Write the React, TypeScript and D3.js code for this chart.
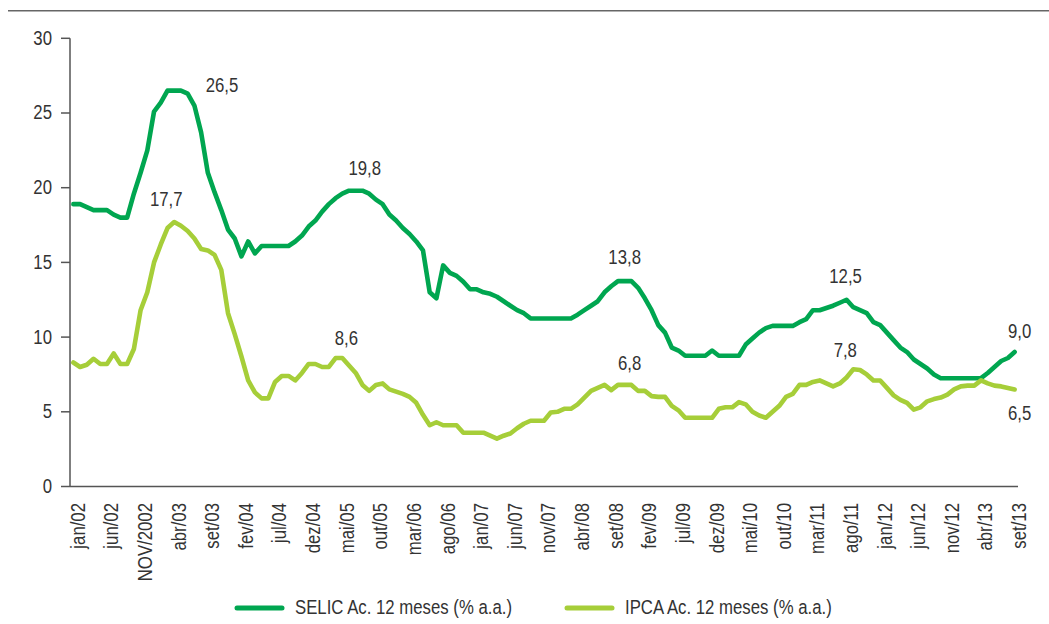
import React from 'react';
import * as d3 from 'd3';

// monthly values jan/02 .. set/13 (141 months)
const selic = [
  18.9, 18.9, 18.7, 18.5, 18.5, 18.5, 18.2, 18.0, 18.0, 19.6, 21.0, 22.5,
  25.1, 25.7, 26.5, 26.5, 26.5, 26.3, 25.5, 23.7, 21.0, 19.7, 18.5, 17.2,
  16.6, 15.4, 16.4, 15.6, 16.1, 16.1, 16.1, 16.1, 16.1, 16.4, 16.8, 17.4,
  17.8, 18.4, 18.9, 19.3, 19.6, 19.8, 19.8, 19.8, 19.6, 19.2, 18.9, 18.2,
  17.8, 17.3, 16.9, 16.4, 15.8, 13.0, 12.6, 14.8, 14.3, 14.1, 13.7, 13.2,
  13.2, 13.0, 12.9, 12.7, 12.4, 12.1, 11.8, 11.6, 11.25, 11.25, 11.25, 11.25,
  11.25, 11.25, 11.25, 11.5, 11.8, 12.1, 12.4, 13.0, 13.4, 13.75, 13.75, 13.75,
  13.3, 12.6, 11.8, 10.8, 10.3, 9.3, 9.1, 8.75, 8.75, 8.75, 8.75, 9.1,
  8.75, 8.75, 8.75, 8.75, 9.5, 9.9, 10.3, 10.6, 10.75, 10.75, 10.75, 10.75,
  11.0, 11.2, 11.8, 11.8, 11.95, 12.1, 12.3, 12.5, 12.0, 11.8, 11.6, 11.0,
  10.8, 10.3, 9.8, 9.3, 9.0, 8.5, 8.2, 7.9, 7.5, 7.25, 7.25, 7.25,
  7.25, 7.25, 7.25, 7.25, 7.6, 8.0, 8.4, 8.6, 9.0,
];

const ipca = [
  8.3, 8.0, 8.15, 8.55, 8.2, 8.2, 8.9, 8.2, 8.2, 9.2, 11.8, 13.0,
  15.0, 16.2, 17.3, 17.7, 17.45, 17.1, 16.6, 15.9, 15.8, 15.5, 14.5, 11.6,
  10.2, 8.7, 7.1, 6.3, 5.9, 5.9, 7.0, 7.4, 7.4, 7.1, 7.6, 8.2,
  8.2, 8.0, 8.0, 8.6, 8.6, 8.1, 7.6, 6.8, 6.4, 6.8, 6.9, 6.5,
  6.35, 6.2, 6.0, 5.6, 4.8, 4.1, 4.3, 4.1, 4.1, 4.1, 3.6, 3.6,
  3.6, 3.6, 3.4, 3.2, 3.4, 3.55, 3.9, 4.2, 4.4, 4.4, 4.4, 4.95,
  5.0, 5.2, 5.2, 5.5, 5.95, 6.4, 6.6, 6.8, 6.45, 6.8, 6.8, 6.8,
  6.4, 6.4, 6.05, 6.0, 6.0, 5.4, 5.1, 4.6, 4.6, 4.6, 4.6, 4.6,
  5.2, 5.3, 5.3, 5.65, 5.5, 5.0, 4.75, 4.6, 5.0, 5.4, 6.0, 6.2,
  6.8, 6.8, 7.0, 7.1, 6.9, 6.7, 6.9, 7.3, 7.85, 7.8, 7.5, 7.1,
  7.1, 6.6, 6.1, 5.8, 5.6, 5.15, 5.3, 5.7, 5.85, 5.95, 6.15, 6.5,
  6.7, 6.75, 6.75, 7.1, 6.9, 6.75, 6.7, 6.6, 6.5,
];

// one label every 5 months
const tickLabels = [
  'jan/02', 'jun/02', 'NOV/2002', 'abr/03', 'set/03', 'fev/04', 'jul/04', 'dez/04',
  'mai/05', 'out/05', 'mar/06', 'ago/06', 'jan/07', 'jun/07', 'nov/07', 'abr/08',
  'set/08', 'fev/09', 'jul/09', 'dez/09', 'mai/10', 'out/10', 'mar/11', 'ago/11',
  'jan/12', 'jun/12', 'nov/12', 'abr/13', 'set/13',
];

const yTicks = [0, 5, 10, 15, 20, 25, 30];

const seriesNames = ['SELIC Ac. 12 meses (% a.a.)', 'IPCA Ac. 12 meses (% a.a.)'];
const seriesColors = ['#00a650', '#a6ce39'];

// highlighted values: series, month index, text
const callouts = [
  { s: 0, i: 16, text: '26,5', dx: 41, dy: -5 },
  { s: 1, i: 15, text: '17,7', dx: -8, dy: -22 },
  { s: 0, i: 42, text: '19,8', dx: 9, dy: -22 },
  { s: 1, i: 40, text: '8,6', dx: 4, dy: -19 },
  { s: 0, i: 82, text: '13,8', dx: 0, dy: -24 },
  { s: 1, i: 82, text: '6,8', dx: 5, dy: -21 },
  { s: 0, i: 115, text: '12,5', dx: -1, dy: -23 },
  { s: 1, i: 116, text: '7,8', dx: -8, dy: -19 },
  { s: 0, i: 140, text: '9,0', dx: 5, dy: -20 },
  { s: 1, i: 140, text: '6,5', dx: 5, dy: 24 },
];

// no narrow font installed, so squeeze Liberation Sans horizontally
const font = '"Liberation Sans", Arial, sans-serif';
const fontSize = 19.5;
const squeeze = 0.86;
const textColor = '#333';

type LabelProps = {
  x: number;
  y: number;
  rotate?: number;
  anchor?: 'start' | 'middle' | 'end';
  baseline?: string;
  children: React.ReactNode;
};

const Label = ({ x, y, rotate = 0, anchor = 'start', baseline = 'central', children }: LabelProps) => (
  <g transform={`translate(${x},${y}) rotate(${rotate}) scale(${squeeze},1)`}>
    <text textAnchor={anchor} dominantBaseline={baseline} fontFamily={font} fontSize={fontSize} fill={textColor}>
      {children}
    </text>
  </g>
);

export default function App() {
  const width = 1049;
  const height = 624;
  const left = 70;
  const right = 1018;
  const top = 38.3;
  const bottom = 486.5;

  const series = [selic, ipca];
  const x = d3.scaleBand<number>().domain(d3.range(selic.length)).range([left, right]);
  const cx = (i: number) => (x(i) as number) + x.bandwidth() / 2;
  const y = d3.scaleLinear().domain([0, 30]).range([bottom, top]);

  const line = d3
    .line<number>()
    .x((_, i) => cx(i))
    .y((d) => y(d));

  return (
    <svg width={width} height={height} style={{ position: 'absolute', left: 0, top: 0 }}>
      <rect width={width} height={height} fill="#fff" />
      <line x1={8} x2={width} y1={10.8} y2={10.8} stroke="#666" strokeWidth={1.6} />

      {/* y axis */}
      <line x1={left} x2={left} y1={top} y2={bottom} stroke="#555" strokeWidth={1.5} />
      {yTicks.map((t) => (
        <g key={t}>
          <line x1={61} x2={left} y1={y(t)} y2={y(t)} stroke="#555" strokeWidth={1.5} />
          <Label x={52} y={y(t)} anchor="end">
            {t}
          </Label>
        </g>
      ))}

      {/* x axis */}
      <line x1={left} x2={right} y1={bottom} y2={bottom} stroke="#555" strokeWidth={1.5} />
      {tickLabels.map((lab, k) => (
        <Label key={lab} x={cx(k * 5) + 5} y={503} rotate={-90} anchor="end">
          {lab}
        </Label>
      ))}

      {series.map((s, k) => (
        <path
          key={k}
          d={line(s) ?? ''}
          fill="none"
          stroke={seriesColors[k]}
          strokeWidth={4.6}
          strokeLinejoin="round"
          strokeLinecap="round"
        />
      ))}

      {callouts.map((c) => (
        <Label key={c.text + c.s} x={cx(c.i) + c.dx} y={y(series[c.s][c.i]) + c.dy} anchor="middle">
          {c.text}
        </Label>
      ))}

      {/* legend */}
      {seriesNames.map((name, k) => {
        const lx = k === 0 ? 237 : 567;
        return (
          <g key={name} transform={`translate(${lx},608)`}>
            <line x1={0} x2={45} stroke={seriesColors[k]} strokeWidth={5} strokeLinecap="round" />
            <Label x={58} y={0}>
              {name}
            </Label>
          </g>
        );
      })}
    </svg>
  );
}
